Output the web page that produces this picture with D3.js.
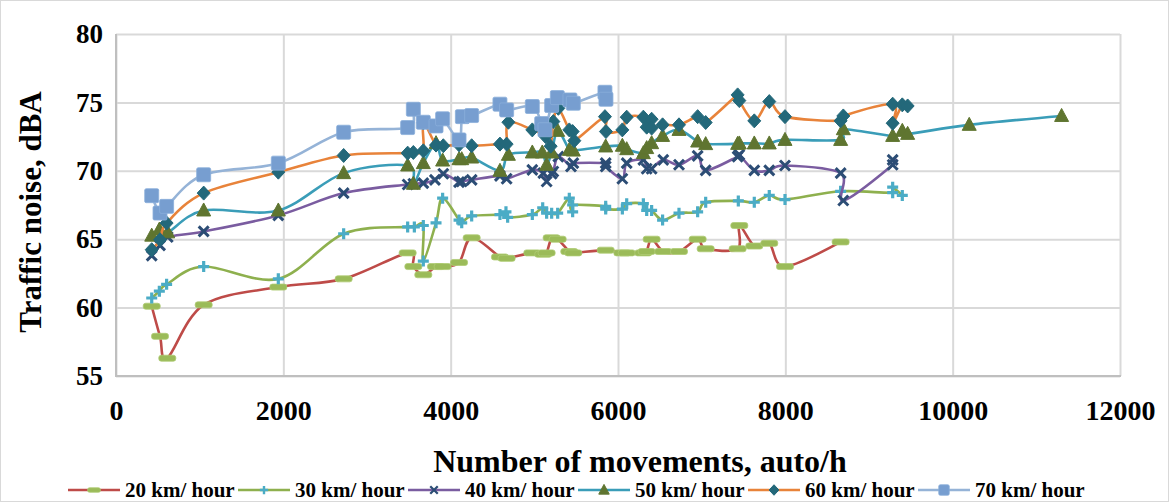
<!DOCTYPE html>
<html><head><meta charset="utf-8">
<script src="https://cdn.jsdelivr.net/npm/d3@7"></script>
<style>
html,body{margin:0;padding:0;background:#fff;}
svg text{font-family:"Liberation Serif","Times New Roman",serif;font-weight:bold;fill:#000;}
</style></head>
<body><svg id="c" width="1169" height="502"></svg>
<script>
const xTicks = [0,2000,4000,6000,8000,10000,12000];
const yTicks = [55,60,65,70,75,80];
const seriesNames = ["20 km/ hour","30 km/ hour","40 km/ hour","50 km/ hour","60 km/ hour","70 km/ hour"];

const s20x = [427,526,613,1048,1940,2721,3486,3554,3673,3825,3904,4100,4251,4589,4669,4976,5107,5147,5207,5279,5418,5466,5853,6052,6104,6303,6343,6402,6541,6729,6952,7048,7430,7450,7629,7808,7996,8661];
const s20y = [60.1,57.9,56.3,60.2,61.5,62.1,64.0,63.0,62.4,63.0,63.0,63.3,65.1,63.7,63.6,64.0,63.9,64.0,65.1,65.0,64.1,64.0,64.2,64.0,64.0,64.0,64.1,65.0,64.1,64.1,65.0,64.3,64.3,66.0,64.5,64.7,63.0,64.8];

const s30x = [427,518,605,1048,1940,2721,3486,3566,3673,3673,3825,3904,4100,4132,4251,4589,4661,4681,4976,5100,5147,5207,5279,5418,5458,5458,5853,5853,6052,6104,6303,6343,6402,6533,6729,6952,7048,7438,7629,7808,7996,8661,9283,9283,9398];
const s30y = [60.7,61.2,61.7,63.0,62.1,65.4,65.9,65.9,66.0,63.4,66.2,68.0,66.4,66.2,66.7,66.8,67.0,66.6,66.8,67.3,66.9,66.9,66.9,68.0,67.0,67.5,67.4,67.2,67.2,67.6,67.6,67.1,67.1,66.4,66.9,67.0,67.7,67.8,67.7,68.2,67.9,68.5,68.4,68.8,68.2];

const s40x = [427,526,618,1048,1940,2721,3486,3554,3673,3812,3912,4100,4132,4251,4589,4669,4976,5107,5147,5207,5227,5287,5438,5466,5853,5853,6052,6104,6303,6343,6402,6541,6729,6952,7048,7430,7450,7629,7808,7996,8661,8693,9283,9283];
const s40y = [63.8,64.55,65.16,65.57,66.74,68.37,69.0,69.05,69.1,69.34,69.78,69.17,69.22,69.34,69.63,69.42,70.07,69.83,69.22,69.78,69.95,71.04,70.31,70.56,70.56,70.31,69.42,70.56,70.8,70.15,70.15,70.8,70.44,71.09,70.03,71.04,71.17,70.03,70.03,70.39,69.83,67.83,70.44,70.8];

const s50x = [427,518,618,1048,1940,2721,3486,3554,3673,3825,3904,4100,4132,4251,4589,4690,4976,5095,5147,5207,5279,5418,5466,5853,6052,6104,6303,6343,6402,6533,6729,6952,7048,7430,7450,7629,7808,7996,8661,8693,9283,9398,9462,10198,11302];
const s50y = [65.26,65.7,65.5,67.1,67.1,69.83,70.39,69.05,70.56,72.02,70.75,70.85,70.85,70.97,70.0,71.17,71.34,71.34,70.44,71.34,72.92,71.53,71.48,71.78,71.83,71.58,71.29,71.66,72.02,72.55,72.99,72.14,71.95,71.97,72.0,72.0,72.0,72.26,72.26,73.04,72.55,72.92,72.7,73.36,74.01];

const s60x = [427,526,605,1048,1940,2721,3486,3554,3673,3673,3825,3912,4100,4251,4589,4669,4690,4976,5135,5195,5227,5287,5418,5458,5478,5844,5856,6052,6104,6303,6343,6402,6402,6533,6729,6952,7048,7430,7450,7629,7808,7996,8661,8693,9283,9283,9398,9462];
const s60y = [64.23,64.96,66.18,68.37,69.9,71.12,71.29,71.34,71.46,73.5,71.88,71.83,71.9,71.83,71.95,71.95,73.55,72.99,72.5,71.8,73.6,74.57,72.99,72.87,72.2,73.96,72.87,72.99,73.92,73.92,73.19,73.77,73.12,73.36,73.36,73.96,73.53,75.55,75.13,73.65,75.06,73.96,73.65,74.01,74.87,73.48,74.82,74.74];

const s70x = [427,526,605,1048,1940,2721,3486,3554,3673,3825,3904,4100,4140,4251,4589,4669,4976,5088,5127,5207,5275,5426,5466,5844,5856];
const s70y = [68.18,66.91,67.4,69.71,70.56,72.82,73.16,74.5,73.55,73.28,73.8,72.26,73.96,74.04,74.87,74.45,74.7,73.45,73.0,74.77,75.35,75.18,74.94,75.74,75.23];

const series = [
  {name:seriesNames[0], xs:s20x, ys:s20y, line:"#BE4B48", mark:"bar",  mc:"#9BBB59"},
  {name:seriesNames[1], xs:s30x, ys:s30y, line:"#8EB04E", mark:"plus", mc:"#4BACC6"},
  {name:seriesNames[2], xs:s40x, ys:s40y, line:"#7A5CA0", mark:"cross",mc:"#2C4D75"},
  {name:seriesNames[3], xs:s50x, ys:s50y, line:"#3A9DB8", mark:"tri",  mc:"#5F7530"},
  {name:seriesNames[4], xs:s60x, ys:s60y, line:"#E8833A", mark:"dia",  mc:"#23687A"},
  {name:seriesNames[5], xs:s70x, ys:s70y, line:"#95B3D7", mark:"sq",   mc:"#779ED0"}
];

const svg = d3.select("#c");
const x = d3.scaleLinear().domain([0,12000]).range([116,1120]);
const y = d3.scaleLinear().domain([55,80]).range([376,34]);

svg.append("rect").attr("x",0.5).attr("y",0.5).attr("width",1168).attr("height",501)
  .attr("fill","none").attr("stroke","#D9D9D9");

svg.append("g").attr("transform","translate(0,376)")
  .call(d3.axisBottom(x).tickValues(xTicks).tickSize(-342).tickFormat(""))
  .call(g=>{g.select(".domain").remove();g.selectAll("line").attr("stroke","#D9D9D9").attr("stroke-width",2);});
svg.append("g").attr("transform","translate(116,0)")
  .call(d3.axisLeft(y).tickValues(yTicks).tickSize(-1004).tickFormat(""))
  .call(g=>{g.select(".domain").remove();g.selectAll("line").attr("stroke","#D9D9D9").attr("stroke-width",2);});
svg.append("line").attr("x1",116).attr("x2",116).attr("y1",34).attr("y2",377).attr("stroke","#BFBFBF").attr("stroke-width",2);
svg.append("line").attr("x1",115).attr("x2",1121).attr("y1",376).attr("y2",376).attr("stroke","#BFBFBF").attr("stroke-width",2);

svg.append("g").attr("transform","translate(0,376)")
  .call(d3.axisBottom(x).tickValues(xTicks).tickSize(0).tickPadding(24).tickFormat(d3.format("d")))
  .call(g=>{g.select(".domain").remove();g.selectAll("text").attr("font-size",28).attr("font-family","Liberation Serif").attr("font-weight","bold").attr("dy","0.71em").attr("fill","#000");});
svg.append("g").attr("transform","translate(116,0)")
  .call(d3.axisLeft(y).tickValues(yTicks).tickSize(0).tickPadding(13).tickFormat(d3.format("d")))
  .call(g=>{g.select(".domain").remove();g.selectAll("text").attr("font-size",27).attr("font-family","Liberation Serif").attr("font-weight","bold").attr("fill","#000");});

svg.append("text").attr("x",640).attr("y",472).attr("text-anchor","middle").attr("font-size",32).text("Number of movements, auto/h");
svg.append("text").attr("transform","translate(41,212) rotate(-90)").attr("text-anchor","middle").attr("font-size",31).text("Traffic noise, dBA");

function drawMarker(g, type, color, scale){
  const k = scale||1;
  if(type==="bar"){
    g.append("rect").attr("x",-8.5*k).attr("y",-3*k).attr("width",17*k).attr("height",6*k).attr("rx",2.5*k)
     .attr("fill",color).attr("stroke","#AECB73").attr("stroke-width",0.8);
  } else if(type==="plus"){
    g.append("path").attr("d",`M${-5.5*k},0H${5.5*k}M0,${-5.5*k}V${5.5*k}`).attr("stroke",color).attr("stroke-width",3.2*k).attr("fill","none");
  } else if(type==="cross"){
    g.append("path").attr("d",`M${-5*k},${-5*k}L${5*k},${5*k}M${-5*k},${5*k}L${5*k},${-5*k}`).attr("stroke",color).attr("stroke-width",3*k).attr("fill","none");
  } else if(type==="tri"){
    g.append("path").attr("d",`M0,${-7.5*k}L${7*k},${5.5*k}L${-7*k},${5.5*k}Z`).attr("fill",color).attr("stroke",color).attr("stroke-width",1).attr("stroke-linejoin","round");
  } else if(type==="dia"){
    g.append("path").attr("d",`M0,${-7*k}L${6.5*k},0L0,${7*k}L${-6.5*k},0Z`).attr("fill",color).attr("stroke",color).attr("stroke-width",1).attr("stroke-linejoin","round");
  } else if(type==="sq"){
    g.append("rect").attr("x",-7*k).attr("y",-7*k).attr("width",14*k).attr("height",14*k).attr("rx",1.5)
     .attr("fill",color).attr("stroke","#8AAEDB").attr("stroke-width",0.8);
  }
}

const line = d3.line().x(d=>x(d[0])).y(d=>y(d[1])).curve(d3.curveCatmullRom.alpha(0));
series.forEach(s=>{
  const pts = s.xs.map((v,i)=>[v,s.ys[i]]);
  const g = svg.append("g");
  g.append("path").attr("d",line(pts)).attr("fill","none").attr("stroke",s.line).attr("stroke-width",2.6);
  pts.forEach(p=>{
    const m = g.append("g").attr("transform",`translate(${x(p[0])},${y(p[1])})`);
    drawMarker(m, s.mark, s.mc, 1);
  });
});

const legX = [68,238,408,578,748,918];
series.forEach((s,i)=>{
  const g = svg.append("g").attr("transform",`translate(${legX[i]},490)`);
  g.append("line").attr("x1",0).attr("x2",52).attr("y1",0).attr("y2",0).attr("stroke",s.line).attr("stroke-width",2.6);
  const m = g.append("g").attr("transform","translate(26,0)");
  drawMarker(m, s.mark, s.mc, 0.75);
  g.append("text").attr("x",57).attr("y",6.5).attr("font-size",21).text(s.name);
});
</script></body></html>
